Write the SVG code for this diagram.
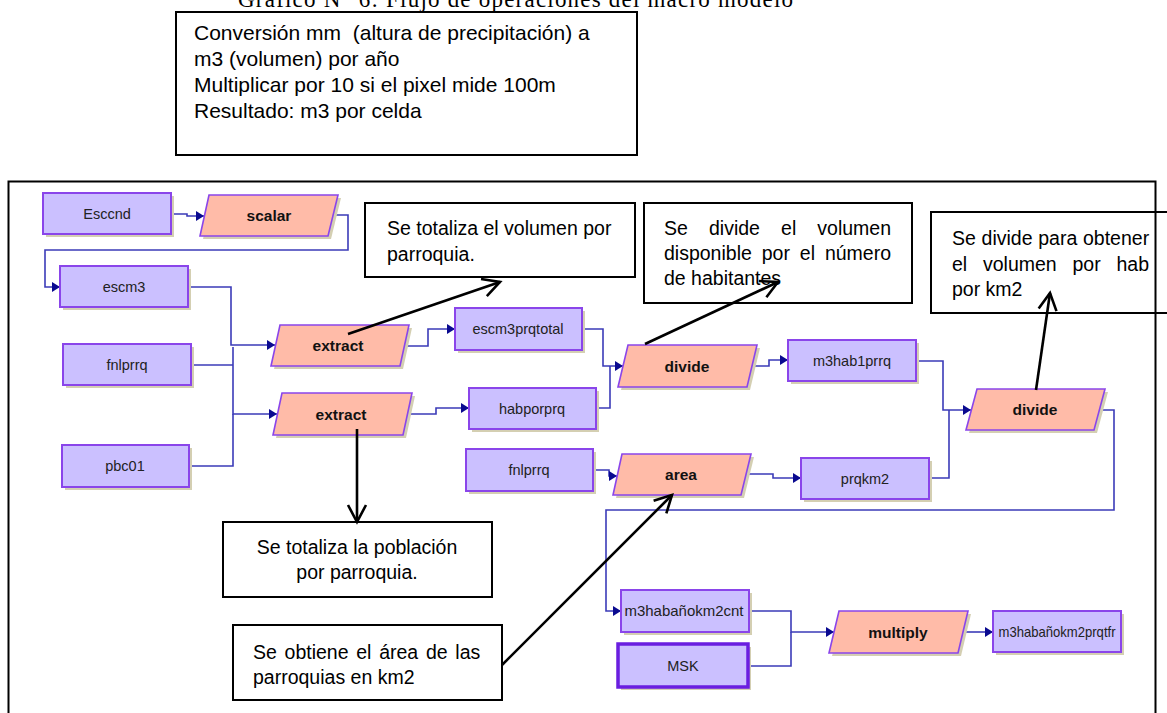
<svg xmlns="http://www.w3.org/2000/svg" width="1167" height="713" viewBox="0 0 1167 713">
<defs>
<style>
.sh{fill:#d4cfb2}
.box{fill:#cbc0ff;stroke:#8a45ea;stroke-width:2}
.msk{fill:#cbc0ff;stroke:#6a1ee0;stroke-width:3.5}
.op{fill:#ffbba8;stroke:#8a45ea;stroke-width:1.6}
.lbl{font-family:"Liberation Sans",Arial,sans-serif;font-size:14.5px;fill:#222;text-anchor:middle}
.opl{font-family:"Liberation Sans",Arial,sans-serif;font-size:15.5px;font-weight:bold;fill:#111;text-anchor:middle}
.con{fill:none;stroke:#3b3bb8;stroke-width:1.6}
.note{fill:#fff;stroke:#000;stroke-width:2}
.nt{font-family:"Liberation Sans",Arial,sans-serif;font-size:19.5px;fill:#000;white-space:pre}
.big{font-size:21px}
.ptr{fill:none;stroke:#000;stroke-width:2.6}
.frame{fill:none;stroke:#000;stroke-width:2}
.title{font-family:"Liberation Serif","Times New Roman",serif;font-size:23px;fill:#000}
</style>
<marker id="ah" markerUnits="userSpaceOnUse" viewBox="0 0 8 10" refX="8" refY="5" markerWidth="8" markerHeight="10" orient="auto"><path d="M0,0 L8,5 L0,10 z" fill="#0a0a90"/></marker>
<marker id="va" markerUnits="userSpaceOnUse" viewBox="-20 -12 24 24" refX="0" refY="0" markerWidth="24" markerHeight="24" orient="auto"><path d="M-17,-9 L0,0 L-17,9" fill="none" stroke="#000" stroke-width="2.6"/></marker>
</defs>
<rect x="0" y="0" width="1167" height="713" fill="#fff"/>
<text class="title" x="238" y="7" textLength="555">Gráfico N° 6: Flujo de operaciones del macro modelo</text>

<g id="note-conversion">
<rect class="note" x="176" y="12" width="461" height="143"/>
<text class="nt big" x="194" y="40">Conversión mm  (altura de precipitación) a</text>
<text class="nt big" x="194" y="66">m3 (volumen) por año</text>
<text class="nt big" x="194" y="92">Multiplicar por 10 si el pixel mide 100m</text>
<text class="nt big" x="194" y="118">Resultado: m3 por celda</text>
</g>
<g id="note-volumen">
<rect class="note" x="365" y="203" width="270" height="74"/>
<text class="nt" x="387" y="235">Se totaliza el volumen por</text>
<text class="nt" x="387" y="261">parroquia.</text>
</g>
<g id="note-divide">
<rect class="note" x="644" y="203" width="268" height="100"/>
<text class="nt" x="664" y="235" word-spacing="15.7">Se divide el volumen</text>
<text class="nt" x="664" y="260" word-spacing="4.5">disponible por el número</text>
<text class="nt" x="664" y="285">de habitantes</text>
</g>
<g id="note-km2">
<rect class="note" x="931" y="212" width="260" height="101"/>
<text class="nt" x="952" y="245" word-spacing="0.3">Se divide para obtener</text>
<text class="nt" x="952" y="271" word-spacing="10.4">el volumen por hab</text>
<text class="nt" x="952" y="296">por km2</text>
</g>
<g id="note-poblacion">
<rect class="note" x="223" y="522" width="269" height="75"/>
<text class="nt" x="357" y="554" text-anchor="middle">Se totaliza la población</text>
<text class="nt" x="357" y="579" text-anchor="middle">por parroquia.</text>
</g>
<g id="note-area">
<rect class="note" x="233" y="625" width="269" height="75"/>
<text class="nt" x="253" y="659" word-spacing="2.3">Se obtiene el área de las</text>
<text class="nt" x="253" y="684">parroquias en km2</text>
</g>

<g id="connectors">
<path class="con" marker-end="url(#ah)" d="M171,214 H187 V216 H204"/>
<path class="con" marker-end="url(#ah)" d="M336,215 H348 V250 H45 V287 H60"/>
<path class="con" marker-end="url(#ah)" d="M188,287 H231 V345 H275"/>
<path class="con" d="M191,365 H233"/>
<path class="con" marker-end="url(#ah)" d="M233,347 V414 H277"/>
<path class="con" d="M189,466 H233 V414"/>
<path class="con" marker-end="url(#ah)" d="M407,346 H428 V329 H455"/>
<path class="con" marker-end="url(#ah)" d="M410,414 H436 V408 H469"/>
<path class="con" marker-end="url(#ah)" d="M582,329 H603 V366 H623"/>
<path class="con" d="M596,408 H610 V366"/>
<path class="con" marker-end="url(#ah)" d="M755,366 H769 V360 H788"/>
<path class="con" marker-end="url(#ah)" d="M593,470 H609 V476 H617"/>
<path class="con" marker-end="url(#ah)" d="M749,474 H773 V478 H801"/>
<path class="con" marker-end="url(#ah)" d="M916,361 H943 V410 H971"/>
<path class="con" d="M929,478 H949 V410"/>
<path class="con" marker-end="url(#ah)" d="M1103,410 H1114 V510 H606 V611 H621"/>
<path class="con" marker-end="url(#ah)" d="M749,611 H791 V632 H834"/>
<path class="con" d="M748,666 H791 V632"/>
<path class="con" marker-end="url(#ah)" d="M964,632 H993"/>
</g>

<g id="n-esccnd"><rect class="sh" x="46" y="196" width="128" height="41"/><rect class="box" x="43" y="193" width="128" height="41"/><text class="lbl" x="107" y="219">Esccnd</text></g>
<g id="n-scalar"><polygon class="sh" points="212,198 341,198 331,239 203,239"/><polygon class="op" points="209,195 338,195 328,236 200,236"/><text class="opl" x="269" y="221">scalar</text></g>
<g id="n-escm3"><rect class="sh" x="63" y="269" width="128" height="41"/><rect class="box" x="60" y="266" width="128" height="41"/><text class="lbl" x="124" y="292">escm3</text></g>
<g id="n-fnlprrq"><rect class="sh" x="66" y="347" width="128" height="41"/><rect class="box" x="63" y="344" width="128" height="41"/><text class="lbl" x="127" y="370">fnlprrq</text></g>
<g id="n-pbc01"><rect class="sh" x="65" y="448" width="127" height="42"/><rect class="box" x="62" y="445" width="127" height="42"/><text class="lbl" x="125" y="471">pbc01</text></g>
<g id="n-extract1"><polygon class="sh" points="283,328 412,328 403,369 274,369"/><polygon class="op" points="280,325 409,325 400,366 271,366"/><text class="opl" x="338" y="351">extract</text></g>
<g id="n-extract2"><polygon class="sh" points="285,396 415,396 406,438 276,438"/><polygon class="op" points="282,393 412,393 403,435 273,435"/><text class="opl" x="341" y="420">extract</text></g>
<g id="n-escm3prqtotal"><rect class="sh" x="458" y="311" width="127" height="42"/><rect class="box" x="455" y="308" width="127" height="42"/><text class="lbl" x="518" y="334">escm3prqtotal</text></g>
<g id="n-habporprq"><rect class="sh" x="472" y="391" width="127" height="41"/><rect class="box" x="469" y="388" width="127" height="41"/><text class="lbl" x="532" y="414">habporprq</text></g>
<g id="n-divide1"><polygon class="sh" points="631,348 760,348 750,390 621,390"/><polygon class="op" points="628,345 757,345 747,387 618,387"/><text class="opl" x="687" y="372">divide</text></g>
<g id="n-m3hab1prrq"><rect class="sh" x="791" y="343" width="128" height="41"/><rect class="box" x="788" y="340" width="128" height="41"/><text class="lbl" x="852" y="366">m3hab1prrq</text></g>
<g id="n-fnlprrq2"><rect class="sh" x="469" y="452" width="127" height="42"/><rect class="box" x="466" y="449" width="127" height="42"/><text class="lbl" x="529" y="475">fnlprrq</text></g>
<g id="n-area"><polygon class="sh" points="625,457 754,457 744,498 616,498"/><polygon class="op" points="622,454 751,454 741,495 613,495"/><text class="opl" x="681" y="480">area</text></g>
<g id="n-prqkm2"><rect class="sh" x="804" y="461" width="128" height="41"/><rect class="box" x="801" y="458" width="128" height="41"/><text class="lbl" x="865" y="484">prqkm2</text></g>
<g id="n-divide2"><polygon class="sh" points="980,392 1108,392 1097,433 969,433"/><polygon class="op" points="977,389 1105,389 1094,430 966,430"/><text class="opl" x="1035" y="415">divide</text></g>
<g id="n-cnt"><rect class="sh" x="624" y="593" width="128" height="42"/><rect class="box" x="621" y="590" width="128" height="42"/><text class="lbl" x="684" y="616" textLength="119" lengthAdjust="spacingAndGlyphs">m3habañokm2cnt</text></g>
<g id="n-msk"><rect class="sh" x="621" y="647" width="130" height="43"/><rect class="msk" x="618" y="644" width="130" height="43"/><text class="lbl" x="683" y="671">MSK</text></g>
<g id="n-multiply"><polygon class="sh" points="842,614 971,614 961,656 832,656"/><polygon class="op" points="839,611 968,611 958,653 829,653"/><text class="opl" x="898" y="638">multiply</text></g>
<g id="n-prqtfr"><rect class="sh" x="996" y="614" width="128" height="41"/><rect class="box" x="993" y="611" width="128" height="41"/><text class="lbl" x="1057" y="637" textLength="117" lengthAdjust="spacingAndGlyphs">m3habañokm2prqtfr</text></g>

<g id="pointers">
<path class="ptr" marker-end="url(#va)" d="M348,334 L500,282"/>
<path class="ptr" marker-end="url(#va)" d="M357,429 L357,522"/>
<path class="ptr" marker-end="url(#va)" d="M645,344 L778,282"/>
<path class="ptr" marker-end="url(#va)" d="M1036,390 L1050,293"/>
<path class="ptr" marker-end="url(#va)" d="M502,665 L672,495"/>
</g>
<rect class="frame" x="8.5" y="181.5" width="1147" height="600"/>
</svg>
